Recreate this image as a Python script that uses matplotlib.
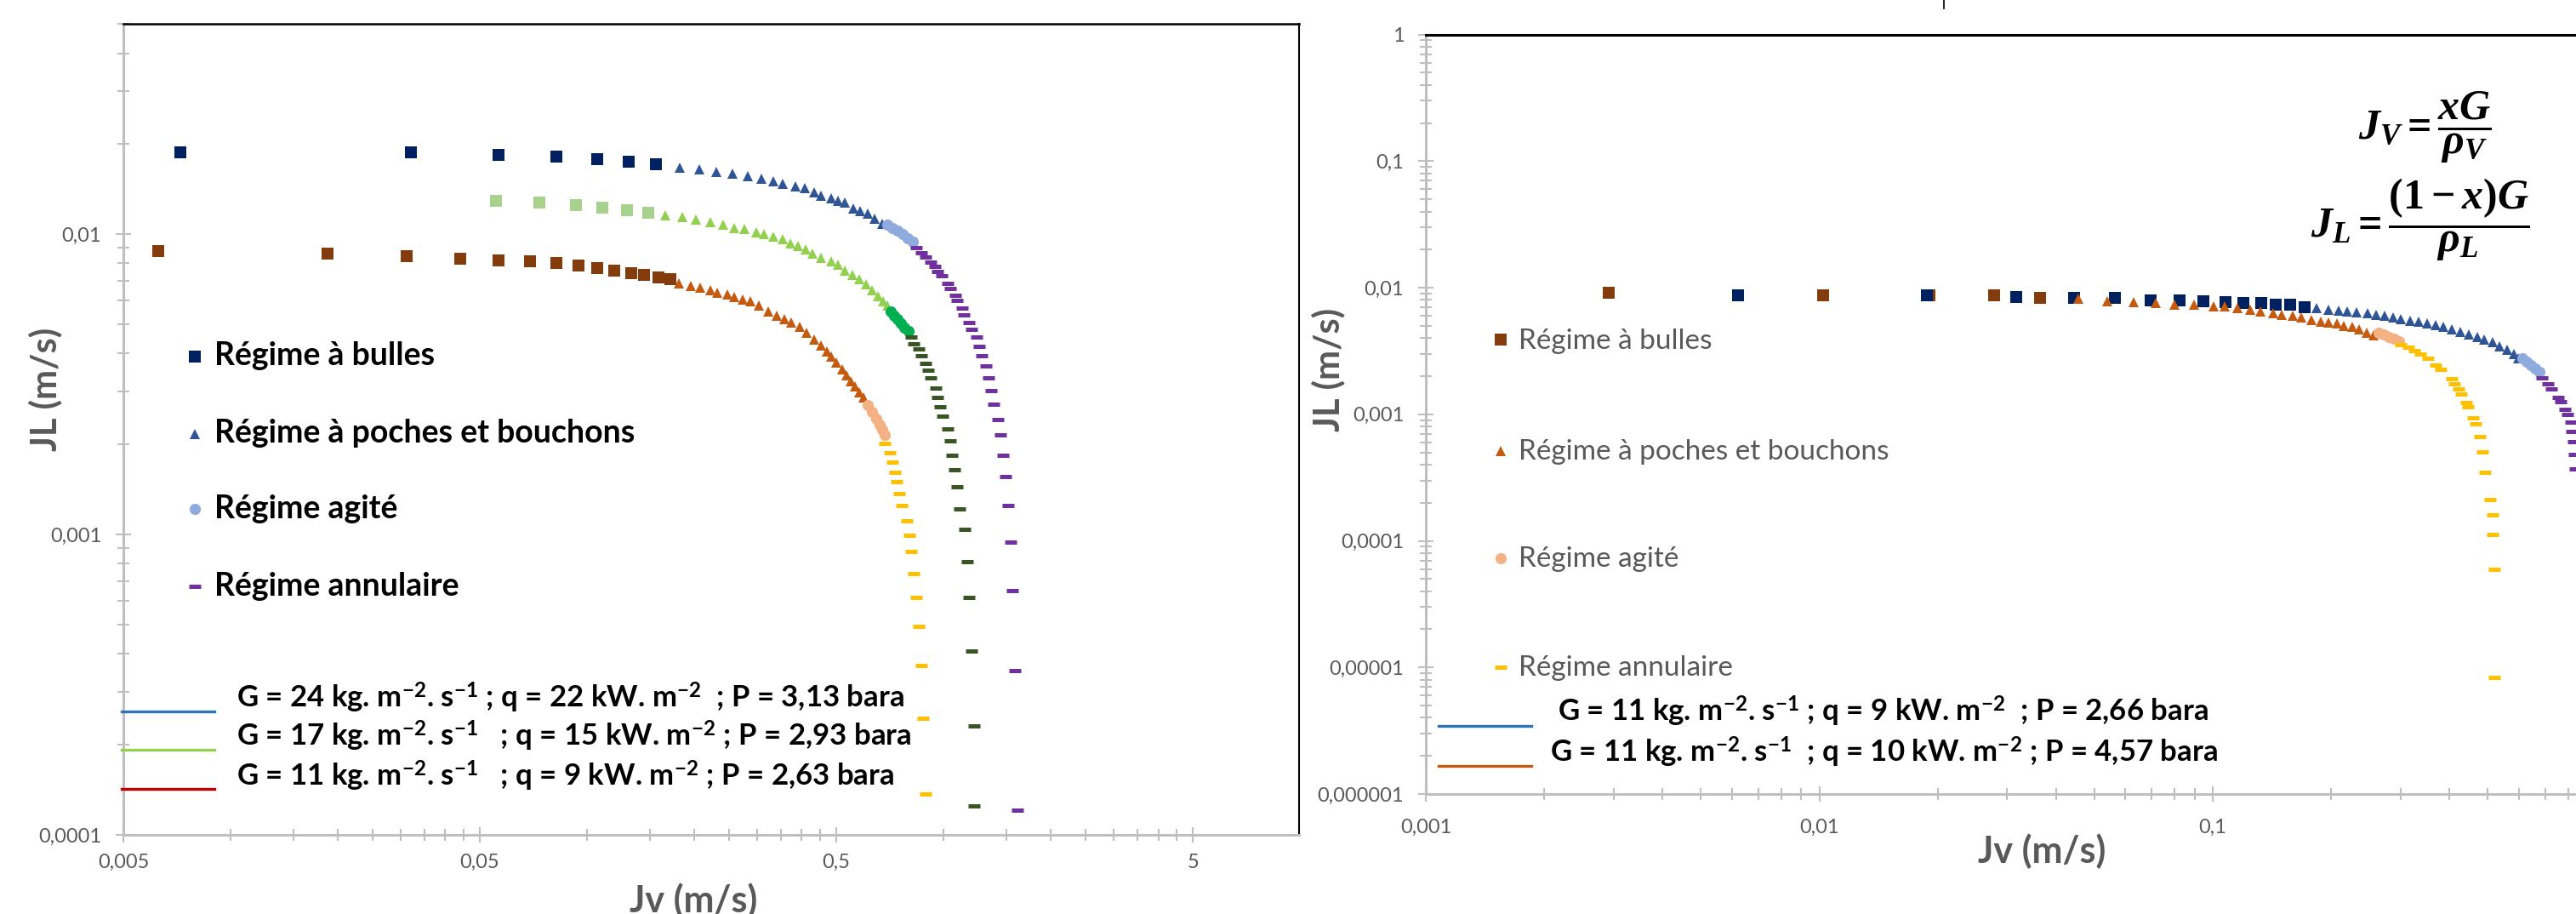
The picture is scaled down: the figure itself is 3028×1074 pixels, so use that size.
import matplotlib
matplotlib.use("Agg")
import matplotlib.pyplot as plt
from matplotlib.lines import Line2D
from matplotlib.ticker import FixedLocator, FixedFormatter, NullFormatter

plt.rcParams['font.family'] = ['Lato', 'DejaVu Sans']
plt.rcParams['mathtext.fontset'] = 'custom'
plt.rcParams['mathtext.it'] = 'Liberation Serif:italic:bold'
plt.rcParams['mathtext.rm'] = 'Liberation Serif:bold'
plt.rcParams['mathtext.bf'] = 'Liberation Serif:bold'

# ------------------------------------------------------------------ data
# Left chart : G = 24 (A), G = 17 (B), G = 11 (C)
A_bul_x = [0.00723, 0.0321, 0.0563, 0.0818, 0.1069, 0.131, 0.1557]
A_bul_y = [0.0187, 0.0187, 0.0184, 0.0181, 0.01776, 0.0174, 0.01707]
A_slug_x = [0.1816, 0.2061, 0.2300, 0.2562, 0.2818, 0.3083, 0.3330, 0.3543, 0.3841, 0.408,
            0.4327, 0.4529, 0.4831, 0.5056, 0.5292, 0.5572, 0.5823, 0.6128, 0.6414, 0.6718]
A_slug_y = [0.01667, 0.01639, 0.01613, 0.01586, 0.01558, 0.01525, 0.01498, 0.0147, 0.01444, 0.01422,
            0.01377, 0.01341, 0.01318, 0.0129, 0.0127, 0.01216, 0.01195, 0.0117, 0.01124, 0.01083]
A_agi_x = [0.695, 0.7186, 0.7426, 0.7677, 0.7934, 0.8199]
A_agi_y = [0.01074, 0.0105, 0.01026, 0.0100, 0.00971, 0.00943]
A_ann_x = [0.8367, 0.865, 0.889, 0.9203, 0.9476, 0.960, 0.990, 1.029, 1.0426, 1.0774, 1.091,
           1.126, 1.142, 1.180, 1.196, 1.236, 1.257, 1.280, 1.313, 1.337, 1.358, 1.380, 1.423,
           1.444, 1.468, 1.492, 1.517, 1.543, 1.562, 1.585, 1.607]
A_ann_y = [0.00901, 0.00868, 0.0084, 0.00808, 0.00779, 0.00752, 0.00725, 0.00687, 0.0066, 0.00625,
           0.00602, 0.00568, 0.00537, 0.00508, 0.00482, 0.00454, 0.00423, 0.00393, 0.00365, 0.00333,
           0.00302, 0.00271, 0.00242, 0.00214, 0.00183, 0.00156, 0.00125, 0.000943, 0.000652,
           0.000353, 0.000121]

B_bul_x = [0.0556, 0.0735, 0.093, 0.1102, 0.1294, 0.1482]
B_bul_y = [0.01292, 0.01273, 0.0125, 0.01227, 0.0120, 0.01179]
B_slug_x = [0.1654, 0.1846, 0.2022, 0.2217, 0.2407, 0.259, 0.2762, 0.2988, 0.314, 0.3335, 0.3537,
            0.3722, 0.3911, 0.4097, 0.4288, 0.4529, 0.4831, 0.5056, 0.5292, 0.5541, 0.58, 0.6072,
            0.6299, 0.6535, 0.6776, 0.6965]
B_slug_y = [0.01157, 0.01139, 0.01115, 0.01096, 0.01072, 0.01049, 0.01038, 0.01015, 0.0100, 0.00982,
            0.00962, 0.00931, 0.00911, 0.00891, 0.00862, 0.00835, 0.00812, 0.00791, 0.00757, 0.00733,
            0.00709, 0.00679, 0.0065, 0.00622, 0.00596, 0.00577]
B_agi_x = [0.7107, 0.7266, 0.7426, 0.7592, 0.7761, 0.7978]
B_agi_y = [0.00552, 0.00536, 0.0052, 0.00504, 0.00489, 0.00475]
B_ann_x = [0.8096, 0.8245, 0.8521, 0.865, 0.889, 0.9036, 0.9203, 0.951, 0.9631, 0.9777, 0.9938,
           1.027, 1.044, 1.057, 1.075, 1.091, 1.109, 1.147, 1.164, 1.180, 1.197, 1.217, 1.217]
B_ann_y = [0.00454, 0.0043, 0.00415, 0.00393, 0.00371, 0.00352, 0.00333, 0.00308, 0.00286, 0.00266,
           0.00247, 0.00225, 0.00205, 0.00183, 0.00164, 0.00144, 0.00122, 0.00104, 0.000813,
           0.000616, 0.00041, 0.00023, 0.000125]

C_bul_x = [0.00625, 0.01866, 0.0312, 0.044, 0.0563, 0.0691, 0.0819, 0.0945, 0.1069, 0.1193,
           0.1328, 0.144, 0.1581, 0.1711]
C_bul_y = [0.00879, 0.0086, 0.00845, 0.00827, 0.00815, 0.00814, 0.00802, 0.00787, 0.00772, 0.00757,
           0.00742, 0.0073, 0.00719, 0.00706]
C_slug_x = [0.1812, 0.1957, 0.2079, 0.2217, 0.232, 0.2475, 0.259, 0.2736, 0.2865, 0.3027, 0.3227,
            0.3409, 0.357, 0.3737, 0.3948, 0.4133, 0.4327, 0.4529, 0.4699, 0.4831, 0.5008, 0.5196,
            0.5341, 0.549, 0.5643, 0.58, 0.5962]
C_slug_y = [0.00687, 0.00672, 0.00662, 0.0065, 0.00639, 0.00629, 0.00616, 0.00605, 0.00596, 0.00577,
            0.00552, 0.00535, 0.00521, 0.00506, 0.0049, 0.00469, 0.00445, 0.00426, 0.00407, 0.0039,
            0.00374, 0.00354, 0.00339, 0.00324, 0.00311, 0.00297, 0.00285]
C_agi_x = [0.6128, 0.6299, 0.6475, 0.6618, 0.6728, 0.6839]
C_agi_y = [0.0027, 0.00256, 0.00243, 0.00232, 0.00223, 0.00215]
C_ann_x = [0.6839, 0.7069, 0.7186, 0.7289, 0.7387, 0.75, 0.7625, 0.7886, 0.80, 0.811, 0.8245,
           0.8381, 0.8521, 0.865, 0.8768, 0.8894]
C_ann_y = [0.00201, 0.00187, 0.00174, 0.00161, 0.0015, 0.00137, 0.00125, 0.00111, 0.000994,
           0.000876, 0.000742, 0.000616, 0.000493, 0.000366, 0.000244, 0.000137]

# Right chart : P = 2,66 bara (D), P = 4,57 bara (E)
D_bul_x = [0.00622, 0.01877, 0.03166, 0.04448, 0.05633, 0.06953, 0.08235, 0.09467, 0.1076,
           0.1199, 0.1326, 0.1445, 0.1573, 0.171]
D_bul_y = [0.0087, 0.0087, 0.0084, 0.0083, 0.0083, 0.0079, 0.0079, 0.0078, 0.0077, 0.0076,
           0.0076, 0.0073, 0.0073, 0.0070]
D_slug_x = [0.1833, 0.1971, 0.2086, 0.2199, 0.2319, 0.2471, 0.2605, 0.2738, 0.2877, 0.300, 0.3178,
            0.3341, 0.3512, 0.3691, 0.3849, 0.4045, 0.4251, 0.4469, 0.4697, 0.4894, 0.5145, 0.5362,
            0.5591, 0.5827, 0.5973]
D_slug_y = [0.00686, 0.00672, 0.0066, 0.00648, 0.00636, 0.00625, 0.00614, 0.00601, 0.00585, 0.00565,
            0.0055, 0.00536, 0.00519, 0.00503, 0.00489, 0.00466, 0.00446, 0.0043, 0.0041, 0.0039,
            0.00369, 0.00344, 0.00325, 0.003, 0.00278]
D_agi_x = [0.6124, 0.6279, 0.6437, 0.66, 0.6766]
D_agi_y = [0.00278, 0.00262, 0.00246, 0.00231, 0.00217]
D_ann_x = [0.6877, 0.711, 0.7264, 0.7537, 0.7661, 0.7854, 0.7985, 0.812, 0.8186, 0.8256, 0.8297, 0.8351]
D_ann_y = [0.00194, 0.00175, 0.00158, 0.00135, 0.00125, 0.0011, 0.00099, 0.00087, 0.000727,
           0.000608, 0.000482, 0.000368]

E_bul_x = [0.00292, 0.01022, 0.01905, 0.02781, 0.0364]
E_bul_y = [0.00909, 0.0087, 0.0087, 0.0087, 0.00831]
E_slug_x = [0.04547, 0.05385, 0.06286, 0.07163, 0.07993, 0.08961, 0.1003, 0.1072, 0.1155, 0.1245,
            0.1319, 0.1422, 0.1494, 0.1597, 0.1679, 0.1779, 0.1885, 0.1965, 0.2065, 0.2153, 0.2262,
            0.2358, 0.2459, 0.2563]
E_slug_y = [0.00813, 0.0078, 0.0077, 0.0076, 0.0074, 0.0073, 0.0071, 0.0071, 0.0069, 0.0067, 0.0065,
            0.0063, 0.0061, 0.0060, 0.0058, 0.0056, 0.0054, 0.0053, 0.0052, 0.0050, 0.0049, 0.0047,
            0.0044, 0.0042]
E_agi_x = [0.264, 0.272, 0.2803, 0.2887, 0.2975]
E_agi_y = [0.00442, 0.00426, 0.0041, 0.00394, 0.00379]
E_ann_x = [0.300, 0.3138, 0.326, 0.337, 0.3524, 0.3691, 0.3803, 0.4045, 0.4113, 0.4216, 0.4285,
           0.4408, 0.4452, 0.4581, 0.4657, 0.4781, 0.4839, 0.4911, 0.506, 0.5145, 0.5145, 0.5203, 0.5203]
E_ann_y = [0.00356, 0.00339, 0.0032, 0.003, 0.00278, 0.00245, 0.00226, 0.00192, 0.00173, 0.00158,
           0.00144, 0.00124, 0.00114, 0.000942, 0.000836, 0.000663, 0.000502, 0.00035, 0.000211,
           0.000161, 0.000112, 0.0000593, 0.0000083]

# axes ticks / labels
L_xticks = [0.005, 0.05, 0.5, 5]
L_xlabels = ['0,005', '0,05', '0,5', '5']
L_yticks = [0.0001, 0.001, 0.01]
L_ylabels = ['0,0001', '0,001', '0,01']
R_xticks = [0.001, 0.01, 0.1]
R_xlabels = ['0,001', '0,01', '0,1']
R_yticks = [1e-6, 1e-5, 1e-4, 1e-3, 1e-2, 1e-1, 1]
R_ylabels = ['0,000001', '0,00001', '0,0001', '0,001', '0,01', '0,1', '1']

regimes = ['Régime à bulles', 'Régime à poches et bouchons', 'Régime agité', 'Régime annulaire']
L_series_labels = [r'G = 24 kg. m$^{\mathregular{-2}}$. s$^{\mathregular{-1}}$ ; q = 22 kW. m$^{\mathregular{-2}}$  ; P = 3,13 bara',
                   r'G = 17 kg. m$^{\mathregular{-2}}$. s$^{\mathregular{-1}}$   ; q = 15 kW. m$^{\mathregular{-2}}$ ; P = 2,93 bara',
                   r'G = 11 kg. m$^{\mathregular{-2}}$. s$^{\mathregular{-1}}$   ; q = 9 kW. m$^{\mathregular{-2}}$ ; P = 2,63 bara']
R_series_labels = [r'G = 11 kg. m$^{\mathregular{-2}}$. s$^{\mathregular{-1}}$ ; q = 9 kW. m$^{\mathregular{-2}}$  ; P = 2,66 bara',
                   r'G = 11 kg. m$^{\mathregular{-2}}$. s$^{\mathregular{-1}}$  ; q = 10 kW. m$^{\mathregular{-2}}$ ; P = 4,57 bara']

# ------------------------------------------------------------------ figure
W, H = 3028, 1074
fig = plt.figure(figsize=(W / 100, H / 100), dpi=100)


def box(l, t, r, b):
    return [l / W, 1 - b / H, (r - l) / W, (b - t) / H]


def fx(x):
    return x / W


def fy(y):
    return 1 - y / H


GRID = '#BFBFBF'
TXT = '#595959'

axL = fig.add_axes(box(145, 28.3, 1527, 981))
axR = fig.add_axes(box(1676, 40.6, 3063.5, 933))


def minors(start_vals, decades):
    return [k * s * 10 ** d for s in start_vals for d in decades for k in range(2, 10)]


def style(ax, xt, xl, xmin, yt, yl, ymin, xpad, xlim, ylim):
    ax.set_xscale('log')
    ax.set_yscale('log')
    ax.set_xlim(*xlim)
    ax.set_ylim(*ylim)
    ax.xaxis.set_major_locator(FixedLocator(xt))
    ax.xaxis.set_major_formatter(FixedFormatter(xl))
    ax.xaxis.set_minor_locator(FixedLocator(xmin))
    ax.xaxis.set_minor_formatter(NullFormatter())
    ax.yaxis.set_major_locator(FixedLocator(yt))
    ax.yaxis.set_major_formatter(FixedFormatter(yl))
    ax.yaxis.set_minor_locator(FixedLocator(ymin))
    ax.yaxis.set_minor_formatter(NullFormatter())
    ax.tick_params(which='major', direction='inout', length=13, width=1.5, color=GRID,
                   labelcolor=TXT, labelsize=17)
    ax.tick_params(which='minor', direction='inout', length=10, width=1.5, color=GRID)
    ax.tick_params(axis='x', which='major', pad=xpad)
    ax.tick_params(axis='y', which='major', pad=12)
    for s in ('left', 'bottom'):
        ax.spines[s].set_color(GRID)
        ax.spines[s].set_linewidth(2.2)
    ax.spines['top'].set_color('black')
    ax.patch.set_alpha(0)


style(axL, L_xticks, L_xlabels, minors([0.005], [0, 1, 2, 3]),
      L_yticks, L_ylabels, minors([1e-4], [0, 1, 2]), 9, (0.005, 9.93), (1e-4, 0.05))
axL.spines['top'].set_linewidth(1.8)
axL.spines['right'].set_color('black')
axL.spines['right'].set_linewidth(1.5)

style(axR, R_xticks, R_xlabels, minors([0.001], [0, 1, 2]),
      R_yticks, R_ylabels, minors([1e-6], [0, 1, 2, 3, 4, 5]), 14, (0.001, 1), (1e-6, 1))
axR.spines['top'].set_linewidth(2.2)
axR.spines['right'].set_visible(False)

# regime styles
MS = dict(s=10, tri=9.3, o=9.5, dash=10)


def pts(ax, x, y, kind, color, z):
    if kind == 'dash':
        ax.plot(x, y, ls='none', marker='_', ms=MS['dash'], mew=3.6, color=color, zorder=z)
    elif kind == 'tri':
        ax.plot(x, y, ls='none', marker='^', ms=MS['tri'], mew=0, color=color, zorder=z)
    elif kind == 'o':
        ax.plot(x, y, ls='none', marker='o', ms=MS['o'], mew=0, color=color, zorder=z)
    else:
        ax.plot(x, y, ls='none', marker='s', ms=MS['s'], mew=0, color=color, zorder=z)


# left chart
pts(axL, A_bul_x, A_bul_y, 's', '#002060', 3)
pts(axL, A_slug_x, A_slug_y, 'tri', '#2F5597', 3)
pts(axL, A_agi_x, A_agi_y, 'o', '#8FAADC', 3)
pts(axL, A_ann_x, A_ann_y, 'dash', '#7030A0', 3)
pts(axL, B_bul_x, B_bul_y, 's', '#A9D18E', 3)
pts(axL, B_slug_x, B_slug_y, 'tri', '#92D050', 3)
pts(axL, B_agi_x, B_agi_y, 'o', '#00B050', 3)
pts(axL, B_ann_x, B_ann_y, 'dash', '#375623', 3)
pts(axL, C_bul_x, C_bul_y, 's', '#843C0C', 3)
pts(axL, C_slug_x, C_slug_y, 'tri', '#C55A11', 3)
pts(axL, C_agi_x, C_agi_y, 'o', '#F4B183', 3)
pts(axL, C_ann_x, C_ann_y, 'dash', '#FFC000', 3)

# right chart
pts(axR, E_bul_x, E_bul_y, 's', '#843C0C', 2)
pts(axR, D_bul_x, D_bul_y, 's', '#002060', 3)
pts(axR, D_slug_x, D_slug_y, 'tri', '#2F5597', 4)
pts(axR, E_slug_x, E_slug_y, 'tri', '#C55A11', 5)
pts(axR, D_agi_x, D_agi_y, 'o', '#8FAADC', 6)
pts(axR, E_agi_x, E_agi_y, 'o', '#F4B183', 6)
pts(axR, D_ann_x, D_ann_y, 'dash', '#7030A0', 7)
pts(axR, E_ann_x, E_ann_y, 'dash', '#FFC000', 7)

# axis labels
axL.set_xlabel('Jv (m/s)', fontsize=31, fontweight='bold', color=TXT)
axL.xaxis.set_label_coords((815 - 145) / 1382, (981 - 1037) / 952.7)
axR.set_xlabel('Jv (m/s)', fontsize=31, fontweight='bold', color=TXT)
axR.xaxis.set_label_coords((2400 - 1676) / 1387.5, (933 - 979) / 892.4)
for ax, cx, cy in ((axL, (53 - 145) / 1382, (981 - 457) / 952.7),
                   (axR, (1561 - 1676) / 1387.5, (933 - 434) / 892.4)):
    ax.set_ylabel('JL (m/s)', fontsize=30, fontweight='bold', color=TXT)
    ax.yaxis.label.set_rotation_mode('default')
    ax.yaxis.label.set_verticalalignment('center')
    ax.yaxis.label.set_horizontalalignment('center')
    ax.yaxis.set_label_coords(cx, cy)


# manual legends (regimes)
def legend_rows(mx, tx, rows, specs, fs, weight, tcolor, off):
    for (lab, kind, col), y in zip(specs, rows):
        mk = {'s': 's', 'tri': '^', 'o': 'o', 'dash': '_'}[kind]
        fig.add_artist(Line2D([fx(mx)], [fy(y)], ls='none', marker=mk, ms=MS[kind],
                              mew=3.6 if kind == 'dash' else 0, color=col,
                              transform=fig.transFigure))
        fig.text(fx(tx), fy(y + off), lab, fontsize=fs, fontweight=weight, color=tcolor,
                 ha='left', va='baseline')


legend_rows(229, 252, [418.5, 509.5, 598.4, 689.4],
            [(regimes[0], 's', '#002060'), (regimes[1], 'tri', '#2F5597'),
             (regimes[2], 'o', '#8FAADC'), (regimes[3], 'dash', '#7030A0')],
            27, 'bold', 'black', 10.5)
legend_rows(1764, 1785, [399.3, 530, 656, 784],
            [(regimes[0], 's', '#843C0C'), (regimes[1], 'tri', '#C55A11'),
             (regimes[2], 'o', '#F4B183'), (regimes[3], 'dash', '#FFC000')],
            24, 'normal', TXT, 10.5)

# series legends (lines)
for y, col, lab in zip([835.6, 880.6, 927.3], ['#2E75B6', '#92D050', '#C00000'], L_series_labels):
    fig.add_artist(Line2D([fx(143), fx(252)], [fy(y), fy(y)], color=col, lw=2.4,
                          transform=fig.transFigure))
    fig.text(fx(278), fy(y - 4), lab, fontsize=25, fontweight='bold', color='black',
             ha='left', va='baseline')
for y, col, lab, tx in zip([852.7, 900], ['#2E75B6', '#C55A11'], R_series_labels, [1831, 1822]):
    fig.add_artist(Line2D([fx(1691), fx(1800)], [fy(y), fy(y)], color=col, lw=2.4,
                          transform=fig.transFigure))
    fig.text(fx(tx), fy(y - 5), lab, fontsize=25, fontweight='bold', color='black',
             ha='left', va='baseline')

# equations
fig.text(fx(2850), fy(150), r'$J_V=\dfrac{xG}{\rho_V}$', fontsize=36, ha='center', va='center')
fig.text(fx(2845), fy(258), r'$J_L=\dfrac{(1-x)G}{\rho_L}$', fontsize=36, ha='center', va='center')

# small cursor mark at the top
fig.add_artist(Line2D([fx(2285), fx(2285)], [1, fy(10)], color='black', lw=1.2,
                      transform=fig.transFigure))

fig.savefig('out.png', dpi=100)
